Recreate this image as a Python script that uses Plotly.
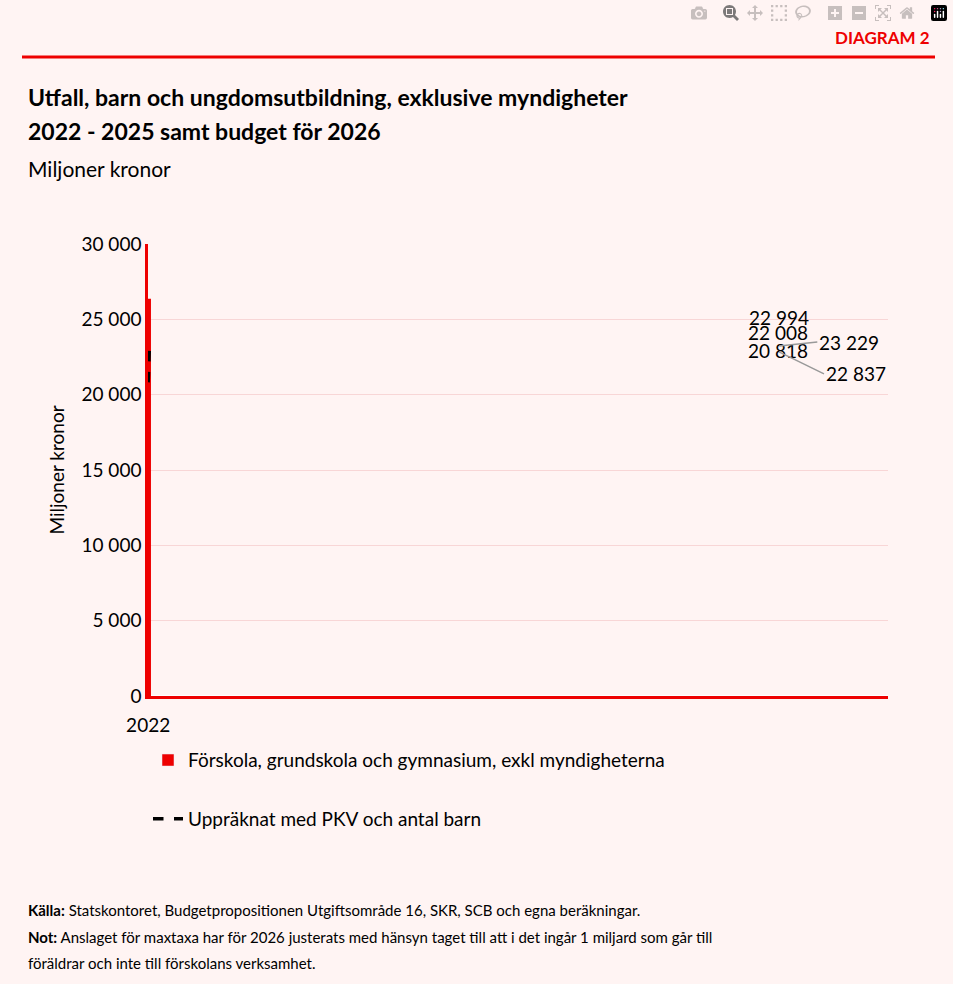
import plotly.graph_objects as go

years = ["2022", "2023", "2024", "2025", "2026"]
actual = [20818, 20487, 22599, 23748]
budget = [26272]
indexed = [20818, 22008, 22994, 22837, 23229]
yticks = [0, 5000, 10000, 15000, 20000, 25000, 30000]
ytext = ["0", "5 000", "10 000", "15 000", "20 000", "25 000", "30 000"]

RED = "#ee0000"
BG = "#fff4f3"
FONT = "Lato, 'Open Sans', sans-serif"

def fmt(v):
    return f"{v:,}".replace(",", " ")

fig = go.Figure()
fig.add_trace(go.Bar(x=years[:4], y=actual, marker_color=RED, width=0.42,
                     text=[fmt(v) for v in actual], textposition="inside",
                     insidetextanchor="middle", textfont=dict(color="black", size=19),
                     name="Förskola, grundskola och gymnasium, exkl myndigheterna",
                     legend="legend"))
fig.add_trace(go.Bar(x=years[4:], y=budget, width=0.42,
                     marker=dict(color="white", line=dict(color=RED, width=3),
                                 pattern=dict(shape="/", fgcolor=RED, bgcolor="white", size=10, solidity=0.45)),
                     text=[fmt(v) for v in budget], textposition="outside",
                     textfont=dict(color="black", size=19), cliponaxis=False, showlegend=False))
fig.add_trace(go.Scatter(x=years, y=indexed, mode="lines",
                         line=dict(color="black", width=3.5, dash="dash"),
                         name="Uppräknat med PKV och antal barn", legend="legend2"))

for i in range(3):
    fig.add_annotation(x=years[i], y=indexed[i], text=fmt(indexed[i]), showarrow=False,
                       yshift=32, font=dict(size=19, color="black"))
fig.add_annotation(x=years[3], y=indexed[3], text=fmt(indexed[3]), showarrow=True,
                   arrowhead=0, arrowcolor="#999999", arrowwidth=1.5, ax=45, ay=22,
                   xanchor="left", font=dict(size=19, color="black"))
fig.add_annotation(x=years[4], y=indexed[4], text=fmt(indexed[4]), showarrow=True,
                   arrowhead=0, arrowcolor="#999999", arrowwidth=1.5, ax=38, ay=-4,
                   xanchor="left", font=dict(size=19, color="black"))

W, H = 953, 984
fig.update_layout(
    width=W, height=H, paper_bgcolor=BG, plot_bgcolor=BG,
    font=dict(family=FONT, size=18, color="black"),
    margin=dict(l=148, r=65, t=244, b=288),
    bargap=0.58, showlegend=True,
    xaxis=dict(type="category", showline=True, linecolor=RED, linewidth=2.5, showgrid=True,
               gridcolor="#f8d6d6", tickfont=dict(size=19), ticks="", ticklabelstandoff=10),
    yaxis=dict(range=[0, 30000], tickvals=yticks, ticktext=ytext, showline=True, linecolor=RED,
               linewidth=2.5, gridcolor="#f8d6d6", tickfont=dict(size=19),
               title=dict(text="Miljoner kronor", font=dict(size=19), standoff=12)),
    legend=dict(x=0.0, y=-0.1, xanchor="left", yanchor="top", bgcolor="rgba(0,0,0,0)",
                font=dict(size=19)),
    legend2=dict(x=0.0, y=-0.23, xanchor="left", yanchor="top", bgcolor="rgba(0,0,0,0)",
                 font=dict(size=19)),
)

pl, pr, pt, pb = 148, W - 65, 244, H - 288
def X(x): return (x - pl) / (pr - pl)
def Y(y): return (pb - y) / (pb - pt)

fig.add_shape(type="line", xref="paper", yref="paper", x0=X(22), x1=X(935), y0=Y(57), y1=Y(57),
              line=dict(color=RED, width=3))
def txt(x, y, s, size, color="black", anchor="left", bold=False):
    fig.add_annotation(xref="paper", yref="paper", x=X(x), y=Y(y), text=(f"<b>{s}</b>" if bold else s),
                       showarrow=False, xanchor=anchor, yanchor="middle",
                       font=dict(size=size, color=color, family=FONT))
txt(932, 37, "DIAGRAM 2", 17, RED, "right", True)
txt(26, 97, "Utfall, barn och ungdomsutbildning, exklusive myndigheter", 23, bold=True)
txt(26, 131, "2022 - 2025 samt budget för 2026", 23, bold=True)
txt(26, 168, "Miljoner kronor", 21)
txt(26, 910, "<b>Källa:</b> Statskontoret, Budgetpropositionen Utgiftsområde 16, SKR, SCB och egna beräkningar.", 15)
txt(26, 937, "<b>Not:</b> Anslaget för maxtaxa har för 2026 justerats med hänsyn taget till att i det ingår 1 miljard som går till", 15)
txt(26, 963, "föräldrar och inte till förskolans verksamhet.", 15)

fig.write_html("out.html")
with open("out.html", encoding="utf-8") as f:
    html = f.read()
html = html.replace("<head>", "<head><style>body{margin:0;}</style>", 1)
with open("out.html", "w", encoding="utf-8") as f:
    f.write(html)
